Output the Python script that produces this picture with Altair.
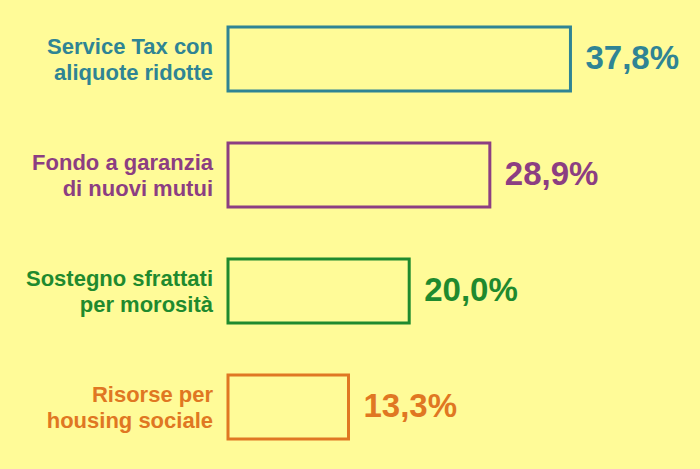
import altair as alt
import pandas as pd

categories = ["Service Tax con\naliquote ridotte", "Fondo a garanzia\ndi nuovi mutui",
              "Sostegno sfrattati\nper morosità", "Risorse per\nhousing sociale"]
values = [37.8, 28.9, 20.0, 13.3]
value_labels = ["37,8%", "28,9%", "20,0%", "13,3%"]
colors = ["#2F8494", "#8C3E82", "#1F8A2E", "#E07722"]
BG = "#FFFB98"

df = pd.DataFrame({"cat": categories, "value": values, "label": value_labels})

y = alt.Y("cat:N", sort=categories, axis=None,
          scale=alt.Scale(paddingInner=0.44, paddingOuter=0.22))
x = alt.X("value:Q", axis=None, scale=alt.Scale(domain=[0, 50], nice=False, zero=True))
cscale = alt.Scale(domain=categories, range=colors)

base = alt.Chart(df)

bars = base.mark_bar(fill=BG, strokeWidth=3, size=64).encode(
    x=x, y=y, stroke=alt.Stroke("cat:N", scale=cscale, legend=None)
)

vals = base.mark_text(align="left", baseline="middle", dx=15, dy=0, fontSize=33,
                      fontWeight="bold", font="Liberation Sans").encode(
    x=x, y=y, text="label:N", color=alt.Color("cat:N", scale=cscale, legend=None)
)

labs = base.mark_text(align="right", baseline="middle", fontSize=22, lineHeight=26,
                      dy=-12, fontWeight="bold", font="Liberation Sans", lineBreak="\n").encode(
    x=alt.value(-15), y=y, text="cat:N", color=alt.Color("cat:N", scale=cscale, legend=None)
)

chart = alt.layer(bars, vals, labs).properties(
    width=453, height=464,
    padding={"left": 228, "top": 1, "right": 19, "bottom": 4},
    autosize=alt.AutoSizeParams(type="none"),
    background=BG,
).configure_view(stroke=None)

chart.save("out.html", embed_options={"renderer": "svg", "actions": False})

with open("out.html", encoding="utf-8") as f:
    html = f.read()
html = html.replace("<body>", '<body style="margin:0;background:%s">' % BG, 1)
with open("out.html", "w", encoding="utf-8") as f:
    f.write(html)
